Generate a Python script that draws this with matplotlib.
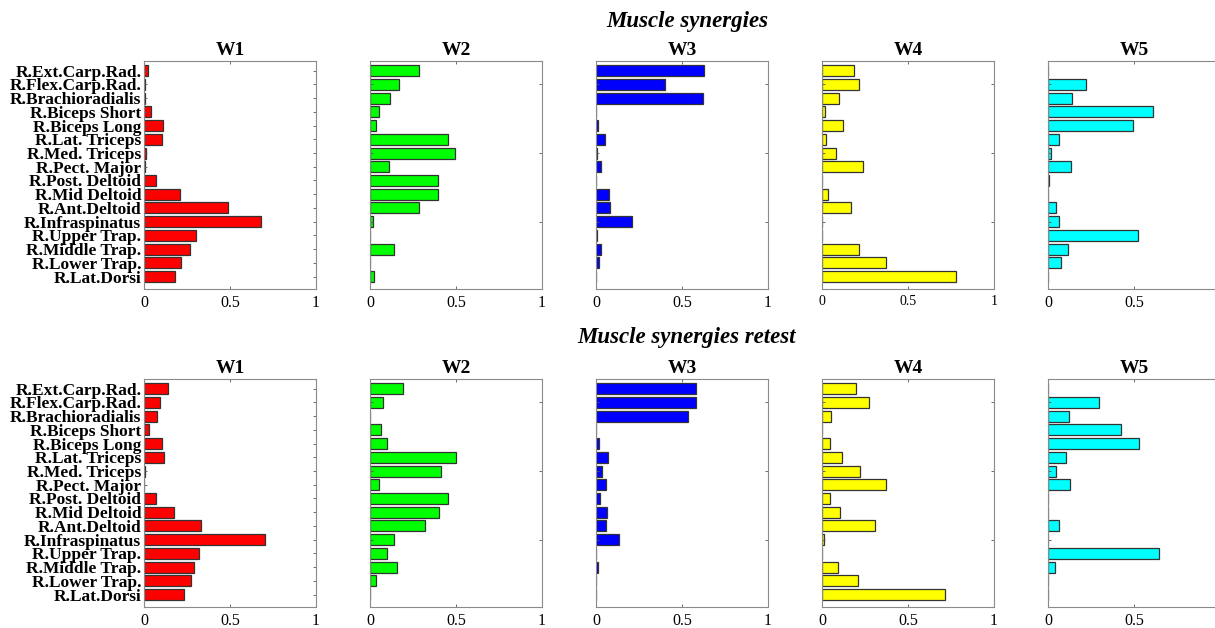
import matplotlib
matplotlib.use("Agg")
import matplotlib.pyplot as plt
import numpy as np

muscles = [
    "R.Ext.Carp.Rad.", "R.Flex.Carp.Rad.", "R.Brachioradialis", "R.Biceps Short",
    "R.Biceps Long", "R.Lat. Triceps", "R.Med. Triceps", "R.Pect. Major",
    "R.Post. Deltoid", "R.Mid Deltoid", "R.Ant.Deltoid", "R.Infraspinatus",
    "R.Upper Trap.", "R.Middle Trap.", "R.Lower Trap.", "R.Lat.Dorsi",
]
synergy_names = ["W1", "W2", "W3", "W4", "W5"]
bar_colors = ["#ff0000", "#00ff00", "#0000ff", "#ffff00", "#00ffff"]

# Test session weights (rows follow the muscle order above)
test_w1 = [0.025, 0.008, 0.003, 0.040, 0.110, 0.107, 0.010, 0.003,
           0.068, 0.208, 0.489, 0.678, 0.303, 0.268, 0.217, 0.183]
test_w2 = [0.282, 0.170, 0.114, 0.050, 0.037, 0.453, 0.495, 0.108,
           0.393, 0.393, 0.282, 0.019, 0.002, 0.137, 0.002, 0.023]
test_w3 = [0.629, 0.400, 0.621, 0.002, 0.010, 0.054, 0.008, 0.027,
           0.000, 0.073, 0.081, 0.211, 0.007, 0.029, 0.019, 0.002]
test_w4 = [0.184, 0.217, 0.097, 0.015, 0.124, 0.021, 0.079, 0.240,
           0.000, 0.037, 0.166, 0.002, 0.000, 0.213, 0.373, 0.781]
test_w5 = [0.000, 0.220, 0.142, 0.611, 0.496, 0.062, 0.019, 0.136,
           0.005, 0.000, 0.049, 0.062, 0.521, 0.117, 0.078, 0.000]

# Retest session weights
retest_w1 = [0.138, 0.091, 0.076, 0.027, 0.105, 0.117, 0.003, 0.002,
             0.072, 0.173, 0.330, 0.701, 0.318, 0.291, 0.276, 0.235]
retest_w2 = [0.190, 0.077, 0.000, 0.062, 0.099, 0.499, 0.410, 0.050,
             0.453, 0.400, 0.319, 0.137, 0.099, 0.157, 0.033, 0.002]
retest_w3 = [0.582, 0.580, 0.536, 0.002, 0.015, 0.068, 0.035, 0.058,
             0.021, 0.062, 0.060, 0.132, 0.002, 0.010, 0.002, 0.002]
retest_w4 = [0.199, 0.273, 0.054, 0.000, 0.045, 0.118, 0.222, 0.373,
             0.048, 0.104, 0.311, 0.014, 0.000, 0.091, 0.209, 0.716]
retest_w5 = [0.000, 0.294, 0.121, 0.422, 0.531, 0.105, 0.047, 0.128,
             0.000, 0.000, 0.066, 0.000, 0.644, 0.039, 0.000, 0.000]

test_sets = [test_w1, test_w2, test_w3, test_w4, test_w5]
retest_sets = [retest_w1, retest_w2, retest_w3, retest_w4, retest_w5]
row_titles = ["Muscle synergies", "Muscle synergies retest"]

plt.rcParams["font.family"] = ["Liberation Serif", "DejaVu Serif"]

W, H = 1215, 628
fig = plt.figure(figsize=(W / 100, H / 100), dpi=100)

lefts_px = [144, 370, 596, 822, 1048]
ax_w_px = 172
rows_px = [(61, 289), (379, 607)]
suptitle_y_px = [22, 337]

n = len(muscles)
ypos = np.arange(n, 0, -1)  # first muscle at the top

for r, (data_sets, (top_px, bot_px)) in enumerate(zip([test_sets, retest_sets], rows_px)):
    for c, (vals, name, col) in enumerate(zip(data_sets, synergy_names, bar_colors)):
        ax = fig.add_axes([lefts_px[c] / W, 1 - bot_px / H,
                           ax_w_px / W, (bot_px - top_px) / H])
        ax.barh(ypos, vals, height=0.8, color=col, edgecolor="#333333", linewidth=0.9)
        ax.set_xlim(0, 1)
        ax.set_ylim(0.1, 16.7)
        ax.set_xticks([0, 0.5, 1])
        # the last panel runs past the right edge of the figure
        if c == 4:
            ax.set_xticklabels(["0", "0.5", ""])
        else:
            ax.set_xticklabels(["0", "0.5", "1"])
        if c == 0:
            ax.set_yticks(ypos)
            ax.set_yticklabels(muscles, fontweight="bold", fontsize=12.5)
        else:
            ax.set_yticks([5, 10, 15])
            ax.set_yticklabels([])
        xfs = 10 if (r == 0 and c == 3) else 11.5
        ax.tick_params(axis="x", labelsize=xfs, pad=4)
        ax.tick_params(axis="y", pad=2)
        ax.tick_params(direction="in", length=2.5, width=0.6, color="#555555",
                       top=True, right=True)
        for sp in ax.spines.values():
            sp.set_color("#8a8a8a")
            sp.set_linewidth(0.8)
        ax.set_title(name, fontsize=14, fontweight="bold", pad=4)
    fig.text(687 / W, 1 - suptitle_y_px[r] / H, row_titles[r],
             ha="center", va="center", fontsize=16.5,
             fontweight="bold", fontstyle="italic")

fig.savefig("out.png", dpi=100)
